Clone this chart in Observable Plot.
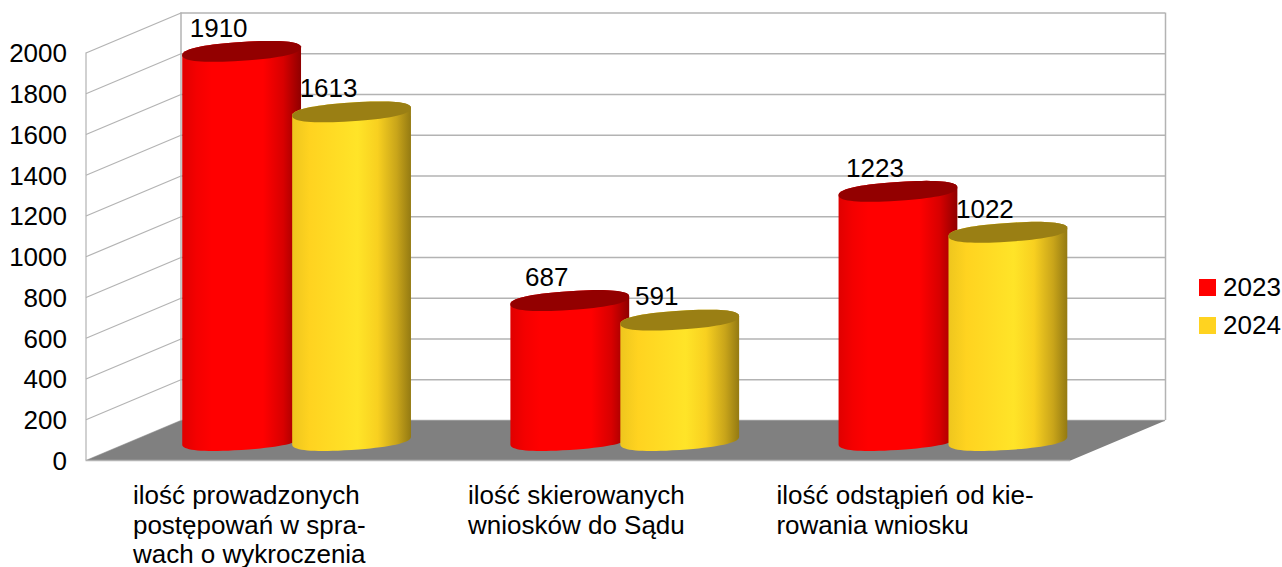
<!DOCTYPE html>
<html>
<head>
<meta charset="utf-8">
<script src="https://cdn.jsdelivr.net/npm/d3@7"></script>
<script src="https://cdn.jsdelivr.net/npm/@observablehq/plot@0.6"></script>
<style>
html,body{margin:0;padding:0;background:#fff;}
#wrap{position:relative;width:1282px;height:567px;overflow:hidden;font-family:"Liberation Sans",sans-serif;}
#wrap svg{display:block;}
.lg{position:absolute;left:1199px;display:flex;align-items:center;font-size:26px;line-height:26px;color:#000;white-space:nowrap;}
.lg i{display:block;width:17px;height:17px;margin-right:7px;}
</style>
</head>
<body>
<div id="wrap"></div>
<script>
const categories = [
  "ilość prowadzonych\npostępowań w spra-\nwach o wykroczenia",
  "ilość skierowanych\nwniosków do Sądu",
  "ilość odstąpień od kie-\nrowania wniosku"
];
const seriesNames = ["2023", "2024"];
const values2023 = [1910, 687, 1223];
const values2024 = [1613, 591, 1022];
const yTicks = [0, 200, 400, 600, 800, 1000, 1200, 1400, 1600, 1800, 2000];

// layout of the pseudo-3D box, in scale units
const depthX = 0.2895, depthY = 196;      // shift from front edge to back wall
const radius = 0.181, offset = 0.1675;    // cylinder half-width and pair offset
const tiltY = 19, swellY = 46;            // cap ellipse shape, in value units
const blunt = 0.85;                       // cap outline exponent
const labelX = [0.143, 1.164, 2.104];     // left edge of category labels

const cx = (i, s) => i + 0.497 + depthX / 2 + (s === 0 ? -offset : offset);
const baseY = depthY / 2;
const angles = d3.range(0, 360, 5).map(d => d * Math.PI / 180);
const pow = c => Math.sign(c) * Math.pow(Math.abs(c), blunt);
const ex = t => radius * pow(Math.cos(t));
const ey = t => tiltY * pow(Math.cos(t)) + swellY * pow(Math.sin(t));

function capPoints(vals, s) {
  return vals.flatMap((v, i) => angles.map(t => ({
    k: i, x: cx(i, s) + ex(t), y: v + baseY + ey(t)
  })));
}
function bodyPoints(vals, s) {
  return vals.flatMap((v, i) => [
    ...angles.filter(t => t >= Math.PI).map(t => ({k: i, x: cx(i, s) + ex(t), y: baseY + ey(t)})),
    {k: i, x: cx(i, s) + radius, y: baseY + tiltY},
    ...angles.filter(t => t <= Math.PI).map(t => ({k: i, x: cx(i, s) + ex(t), y: v + baseY + ey(t)}))
  ]);
}
const poly = (pts, fill) => Plot.line(pts, {
  x: "x", y: "y", z: "k", fill, stroke: "none", curve: "linear-closed"
});

const gridColor = "#b3b3b3";
const floor = [[0, 0], [depthX, depthY], [3 + depthX, depthY], [3, 0]];

const labels = [
  ...values2023.map((v, i) => ({v, x: cx(i, 0)})),
  ...values2024.map((v, i) => ({v, x: cx(i, 1)}))
];

const chart = Plot.plot({
  width: 1282,
  height: 567,
  marginLeft: 85.5,
  marginRight: 117,
  marginTop: 52.5,
  marginBottom: 107,
  style: {background: "#fff", fontFamily: "Liberation Sans", fontSize: "26px", color: "#000"},
  x: {domain: [0, 3 + depthX], axis: null},
  y: {domain: [0, 2000], axis: null},
  marks: [
    Plot.ruleY(yTicks, {x1: depthX, x2: 3 + depthX, y: d => d + depthY, stroke: gridColor, strokeWidth: 1.5}),
    Plot.link(yTicks, {x1: 0, x2: depthX, y1: d => d, y2: d => d + depthY, stroke: gridColor, strokeWidth: 1.2}),
    Plot.ruleX([0], {y1: 0, y2: 2000, stroke: gridColor, strokeWidth: 1.2}),
    Plot.ruleX([depthX], {y1: depthY, y2: 2000 + depthY, stroke: gridColor, strokeWidth: 1.5}),
    Plot.ruleX([3 + depthX], {y1: depthY, y2: 2000 + depthY, stroke: gridColor, strokeWidth: 1.5}),
    Plot.line(floor, {x: "0", y: "1", fill: "#808080", stroke: "none", curve: "linear-closed"}),
    Plot.ruleY([0], {x1: 0, x2: 3, stroke: gridColor, strokeWidth: 1.5}),
    poly(bodyPoints(values2023, 0), "url(#redBody)"),
    poly(capPoints(values2023, 0), "#930000"),
    poly(bodyPoints(values2024, 1), "url(#yellowBody)"),
    poly(capPoints(values2024, 1), "#9a7f14"),
    Plot.text(labels, {x: "x", y: d => d.v + baseY, text: d => String(d.v), dx: -23, dy: -23, fontSize: 26, fill: "#000"}),
    Plot.axisY({ticks: yTicks, tickSize: 0, tickPadding: 19, fontSize: 26, dy: 1, label: null, tickFormat: d => String(d), fill: "#000"}),
    Plot.text(categories, {
      x: (d, i) => labelX[i], y: 0, text: d => d, dy: 23,
      textAnchor: "start", lineAnchor: "top", lineHeight: 1.13, fontSize: 26, fill: "#000"
    })
  ]
});

const NS = "http://www.w3.org/2000/svg";
const defs = document.createElementNS(NS, "defs");
defs.innerHTML = `
<linearGradient id="redBody" x1="0" x2="1" y1="0" y2="0">
  <stop offset="0" stop-color="#e00000"/><stop offset="0.12" stop-color="#f40000"/>
  <stop offset="0.25" stop-color="#ff0000"/><stop offset="0.68" stop-color="#ff0000"/>
  <stop offset="0.85" stop-color="#d80000"/><stop offset="1" stop-color="#8f0000"/>
</linearGradient>
<linearGradient id="yellowBody" x1="0" x2="1" y1="0" y2="0">
  <stop offset="0" stop-color="#eec61e"/><stop offset="0.15" stop-color="#ffd320"/>
  <stop offset="0.55" stop-color="#ffe428"/><stop offset="0.72" stop-color="#f8d020"/>
  <stop offset="0.88" stop-color="#c9a51a"/><stop offset="1" stop-color="#947a12"/>
</linearGradient>`;
chart.prepend(defs);

const wrap = document.getElementById("wrap");
wrap.appendChild(chart);
[["#ff0000", 274], ["#ffd320", 312]].forEach(([c, top], i) => {
  const d = document.createElement("div");
  d.className = "lg";
  d.style.top = top + "px";
  d.innerHTML = `<i style="background:${c}"></i><span>${seriesNames[i]}</span>`;
  wrap.appendChild(d);
});
</script>
</body>
</html>
